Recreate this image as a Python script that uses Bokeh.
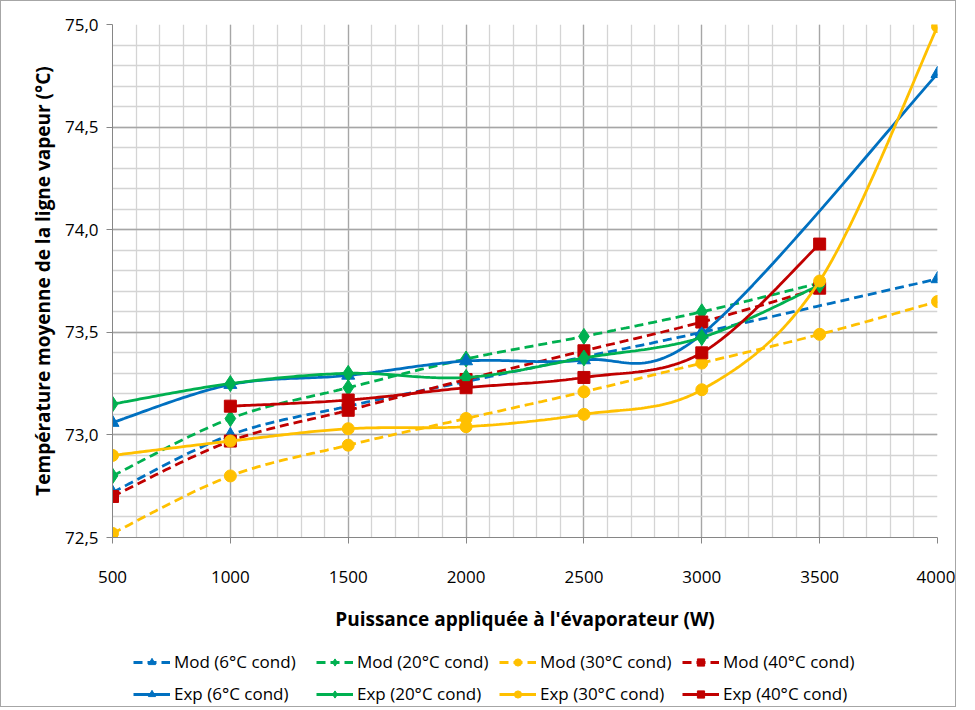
import numpy as np
from bokeh.plotting import figure
from bokeh.layouts import column
from bokeh.models import (Range1d, SingleIntervalTicker, CustomJSTickFormatter,
                          Legend, LegendItem)
from bokeh.embed import file_html
from bokeh.resources import INLINE

# ---------------- data ----------------
power_6 = [500, 1000, 1500, 2000, 2500, 3000, 4000]
power_20 = [500, 1000, 1500, 2000, 2500, 3000, 3500]
power_30 = [500, 1000, 1500, 2000, 2500, 3000, 3500, 4000]
power_40_mod = [500, 1000, 1500, 2000, 2500, 3000, 3500]
power_40_exp = [1000, 1500, 2000, 2500, 3000, 3500]

mod_6 = [72.72, 73.00, 73.14, 73.26, 73.38, 73.50, 73.76]
mod_20 = [72.80, 73.08, 73.23, 73.37, 73.48, 73.60, 73.74]
mod_30 = [72.52, 72.80, 72.95, 73.08, 73.21, 73.35, 73.49, 73.65]
mod_40 = [72.70, 72.97, 73.12, 73.27, 73.41, 73.55, 73.715]

exp_6 = [73.06, 73.245, 73.29, 73.36, 73.365, 73.49, 74.76]
exp_20 = [73.15, 73.25, 73.30, 73.28, 73.375, 73.475, 73.73]
exp_30 = [72.90, 72.97, 73.03, 73.04, 73.10, 73.22, 73.75, 74.99]
exp_40 = [73.14, 73.17, 73.23, 73.28, 73.40, 73.93]

labels_mod = ["Mod (6°C cond)", "Mod (20°C cond)", "Mod (30°C cond)", "Mod (40°C cond)"]
labels_exp = ["Exp (6°C cond)", "Exp (20°C cond)", "Exp (30°C cond)", "Exp (40°C cond)"]

x_title = "Puissance appliquée à l'évaporateur (W)"
y_title = "Température moyenne de la ligne vapeur (°C)"

# ---------------- style ----------------
BLUE, GREEN, YELLOW, RED = "#0070C0", "#00B050", "#FFC000", "#C00000"
FONT = "Open Sans"
TOTAL_W = 954


def smooth(xs, ys, n=40):
    """Excel-like smoothed line (Catmull-Rom style Bezier)."""
    P = np.column_stack([np.asarray(xs, float), np.asarray(ys, float)])
    m = len(P)
    out = []
    for i in range(m - 1):
        p0 = P[max(i - 1, 0)]
        p1 = P[i]
        p2 = P[i + 1]
        p3 = P[min(i + 2, m - 1)]
        c1 = p1 + (p2 - p0) / 6.0
        c2 = p2 - (p3 - p1) / 6.0
        t = np.linspace(0, 1, n)[:, None]
        seg = ((1 - t) ** 3) * p1 + 3 * ((1 - t) ** 2) * t * c1 + 3 * (1 - t) * t ** 2 * c2 + t ** 3 * p2
        if i > 0:
            seg = seg[1:]
        out.append(seg)
    out = np.vstack(out)
    return out[:, 0], out[:, 1]


p = figure(frame_width=825, frame_height=513, output_backend="svg", toolbar_location=None,
           x_range=Range1d(500, 4000), y_range=Range1d(72.5, 75.0),
           min_border_left=111, min_border_right=18, min_border_top=23,
           min_border_bottom=90)
p.outline_line_color = None
p.background_fill_color = "white"
p.border_fill_color = "white"

# axes
p.xaxis.ticker = SingleIntervalTicker(interval=500, num_minor_ticks=5)
p.yaxis.ticker = SingleIntervalTicker(interval=0.5, num_minor_ticks=5)
p.yaxis.formatter = CustomJSTickFormatter(code="return tick.toFixed(1).replace('.', ',');")
for ax in (p.xaxis[0], p.yaxis[0]):
    ax.axis_line_color = "#868686"
    ax.axis_line_width = 1
    ax.major_tick_out = 6
    ax.major_tick_in = 0
    ax.major_tick_line_color = "#868686"
    ax.minor_tick_out = 0
    ax.minor_tick_in = 0
    ax.major_label_text_font = FONT
    ax.major_label_text_font_size = "17px"
    ax.major_label_text_color = "#000000"
    ax.axis_label_text_font = FONT
    ax.axis_label_text_font_size = "19px"
    ax.axis_label_text_font_style = "bold"
    ax.axis_label_text_color = "#000000"
p.xaxis.axis_label = x_title
p.yaxis.axis_label = y_title
p.xaxis.major_label_standoff = 27
p.yaxis.major_label_standoff = 8
p.xaxis.axis_label_standoff = 20
p.yaxis.axis_label_standoff = 6

# grid
for g in (p.xgrid[0], p.ygrid[0]):
    g.grid_line_color = "#a6a6a6"
    g.grid_line_width = 1.3
    g.minor_grid_line_color = "#d4d4d4"
    g.minor_grid_line_width = 1.3

series = [
    (power_6, mod_6, BLUE, "triangle", 13, True, labels_mod[0]),
    (power_20, mod_20, GREEN, "diamond", 16, True, labels_mod[1]),
    (power_30, mod_30, YELLOW, "circle", 12, True, labels_mod[2]),
    (power_40_mod, mod_40, RED, "square", 12, True, labels_mod[3]),
    (power_6, exp_6, BLUE, "triangle", 13, False, labels_exp[0]),
    (power_20, exp_20, GREEN, "diamond", 16, False, labels_exp[1]),
    (power_30, exp_30, YELLOW, "circle", 12, False, labels_exp[2]),
    (power_40_exp, exp_40, RED, "square", 12, False, labels_exp[3]),
]

# legend figure (key samples placed outside its visible range)
pl = figure(width=TOTAL_W, height=72, output_backend="svg", toolbar_location=None,
            x_range=Range1d(0, 1), y_range=Range1d(0, 1),
            x_axis_type=None, y_axis_type=None, min_border=0)
pl.outline_line_color = None
pl.grid.visible = False

items_mod, items_exp = [], []
for xs, ys, col, mk, sz, dashed, lab in series:
    sx, sy = smooth(xs, ys)
    dash = "9 5" if dashed else "solid"
    p.line(sx, sy, line_color=col, line_width=2.8, line_dash=dash, line_cap="butt")
    p.scatter(xs, ys, marker=mk, size=sz, fill_color=col, line_color=col)
    lr = pl.line([-3, -2], [-3, -2], line_color=col, line_width=2.8, line_dash=dash, line_cap="butt")
    mr = pl.scatter([-3], [-3], marker=mk, size=sz, fill_color=col, line_color=col)
    (items_mod if dashed else items_exp).append(LegendItem(label=lab, renderers=[lr, mr]))

for its, loc in ((items_mod, (21, 33)), (items_exp, (21, 1))):
    lg = Legend(items=its, orientation="horizontal", location=loc,
                border_line_color=None, background_fill_alpha=0,
                label_text_font=FONT, label_text_font_size="17px",
                label_text_color="#000000",
                glyph_width=37, glyph_height=18, label_height=18, label_standoff=4,
                label_width=138, spacing=4, padding=0, margin=0)
    pl.add_layout(lg, "center")

layout = column(p, pl, spacing=0)
layout.styles = {"border": "1px solid #a6a6a6"}

open("out.html", "w").write(file_html(layout, INLINE))
